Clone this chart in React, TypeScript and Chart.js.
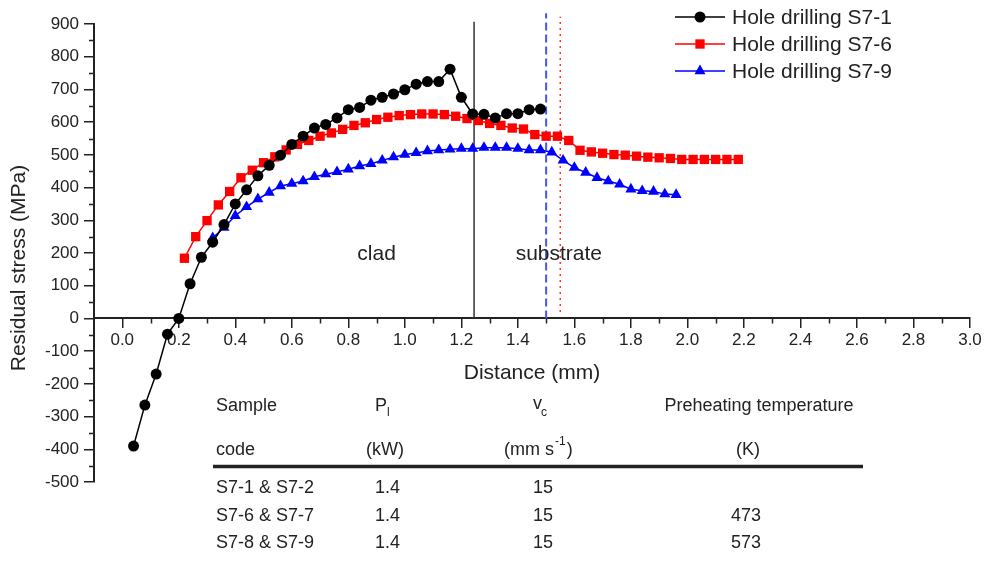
import React, { useEffect, useRef } from "react";
import { Chart, registerables } from "chart.js";

Chart.register(...registerables);

// ---------- data ----------
const S1_X = [0.04, 0.08, 0.12, 0.16, 0.2, 0.24, 0.28, 0.32, 0.36, 0.4, 0.44, 0.48, 0.52, 0.56, 0.6, 0.64, 0.68, 0.72, 0.76, 0.8, 0.84, 0.88, 0.92, 0.96, 1.0, 1.04, 1.08, 1.12, 1.16, 1.2, 1.24, 1.28, 1.32, 1.36, 1.4, 1.44, 1.48];
const S1_Y = [-390, -265, -170, -48, 0, 106, 187, 233, 287, 350, 393, 436, 468, 499, 532, 557, 582, 593, 613, 638, 645, 667, 676, 686, 699, 716, 724, 724, 762, 676, 625, 624, 613, 626, 626, 638, 640];

const S6_X = [0.22, 0.26, 0.3, 0.34, 0.38, 0.42, 0.46, 0.5, 0.54, 0.58, 0.62, 0.66, 0.7, 0.74, 0.78, 0.82, 0.86, 0.9, 0.94, 0.98, 1.02, 1.06, 1.1, 1.14, 1.18, 1.22, 1.26, 1.3, 1.34, 1.38, 1.42, 1.46, 1.5, 1.54, 1.58, 1.62, 1.66, 1.7, 1.74, 1.78, 1.82, 1.86, 1.9, 1.94, 1.98, 2.02, 2.06, 2.1, 2.14, 2.18];
const S6_Y = [184, 250, 299, 347, 388, 430, 453, 476, 494, 515, 532, 544, 557, 567, 578, 590, 598, 608, 615, 620, 623, 625, 625, 623, 618, 611, 605, 596, 590, 582, 579, 562, 557, 557, 544, 514, 509, 505, 501, 499, 496, 493, 491, 489, 486, 486, 486, 486, 486, 486];

const S9_X = [0.32, 0.36, 0.4, 0.44, 0.48, 0.52, 0.56, 0.6, 0.64, 0.68, 0.72, 0.76, 0.8, 0.84, 0.88, 0.92, 0.96, 1.0, 1.04, 1.08, 1.12, 1.16, 1.2, 1.24, 1.28, 1.32, 1.36, 1.4, 1.44, 1.48, 1.52, 1.56, 1.6, 1.64, 1.68, 1.72, 1.76, 1.8, 1.84, 1.88, 1.92, 1.96];
const S9_Y = [246, 278, 314, 341, 365, 385, 405, 412, 420, 433, 441, 448, 456, 466, 473, 483, 493, 501, 506, 512, 515, 517, 519, 519, 522, 522, 522, 519, 515, 515, 508, 483, 461, 446, 430, 420, 410, 395, 390, 388, 380, 378];

const SERIES_LABELS = ["Hole drilling S7-1", "Hole drilling S7-6", "Hole drilling S7-9"];

// vertical reference lines (x position, y from, y to)
const BOUNDARY_LINE = [1.245, 0, 907];
const BLUE_LINE = [1.5, 0, 933];
const RED_LINE = [1.55, 20, 922];

const X_TICKS = [0.0, 0.2, 0.4, 0.6, 0.8, 1.0, 1.2, 1.4, 1.6, 1.8, 2.0, 2.2, 2.4, 2.6, 2.8, 3.0];
const X_MINOR = [0.1, 0.3, 0.5, 0.7, 0.9, 1.1, 1.3, 1.5, 1.7, 1.9, 2.1, 2.3, 2.5, 2.7, 2.9];
const Y_MINOR = [-450, -350, -250, -150, -50, 50, 150, 250, 350, 450, 550, 650, 750, 850];

const REGION_LABELS = ["clad", "substrate"];
const REGION_POS = [[0.9, 195], [1.545, 195]];

const TABLE_ROWS = [
  ["S7-1 & S7-2", "1.4", "15", ""],
  ["S7-6 & S7-7", "1.4", "15", "473"],
  ["S7-8 & S7-9", "1.4", "15", "573"],
];

const FONT = '"Liberation Sans", Arial, Helvetica, sans-serif';
const TEXT = "#222";

function marker(ctx: CanvasRenderingContext2D, style: string, x: number, y: number, r: number, color: string) {
  ctx.save();
  ctx.fillStyle = color;
  ctx.beginPath();
  if (style === "circle") {
    ctx.arc(x, y, r, 0, Math.PI * 2);
  } else if (style === "rect") {
    const s = Math.SQRT1_2 * r;
    ctx.rect(x - s, y - s, 2 * s, 2 * s);
  } else {
    ctx.moveTo(x, y - r);
    ctx.lineTo(x + r * Math.sin(Math.PI / 3), y + r * 0.5);
    ctx.lineTo(x - r * Math.sin(Math.PI / 3), y + r * 0.5);
    ctx.closePath();
  }
  ctx.fill();
  ctx.restore();
}

const decorPlugin = {
  id: "decor",
  afterDraw(chart: any) {
    const ctx: CanvasRenderingContext2D = chart.ctx;
    const xs = chart.scales.x;
    const ys = chart.scales.y;
    const left = chart.chartArea.left;
    const y0 = ys.getPixelForValue(0);
    ctx.save();
    // minor ticks
    ctx.strokeStyle = TEXT;
    ctx.lineWidth = 1.5;
    ctx.beginPath();
    for (const v of X_MINOR) {
      const px = Math.round(xs.getPixelForValue(v)) + 0.5;
      ctx.moveTo(px, y0);
      ctx.lineTo(px, y0 + 5);
    }
    for (const v of Y_MINOR) {
      const py = Math.round(ys.getPixelForValue(v)) + 0.5;
      ctx.moveTo(left - 5, py);
      ctx.lineTo(left, py);
    }
    ctx.stroke();

    ctx.fillStyle = TEXT;
    // axis titles
    ctx.font = `21px ${FONT}`;
    ctx.textAlign = "center";
    ctx.textBaseline = "middle";
    ctx.fillText("Distance (mm)", (chart.chartArea.left + chart.chartArea.right) / 2, 373);
    ctx.save();
    ctx.translate(19, 268);
    ctx.rotate(-Math.PI / 2);
    ctx.fillText("Residual stress (MPa)", 0, 0);
    ctx.restore();

    // region labels
    REGION_LABELS.forEach((t, i) => {
      ctx.fillText(t, xs.getPixelForValue(REGION_POS[i][0]), ys.getPixelForValue(REGION_POS[i][1]));
    });

    // legend
    for (let i = 0; i < 3; i++) {
      const ds = chart.data.datasets[i];
      const ly = 17 + i * 27;
      ctx.strokeStyle = ds.borderColor;
      ctx.lineWidth = ds.borderWidth;
      ctx.beginPath();
      ctx.moveTo(675, ly);
      ctx.lineTo(725, ly);
      ctx.stroke();
      marker(ctx, ds.pointStyle, 700, ly, ds.pointRadius, ds.pointBackgroundColor);
      ctx.fillStyle = TEXT;
      ctx.font = `21px ${FONT}`;
      ctx.textAlign = "left";
      ctx.textBaseline = "middle";
      ctx.fillText(SERIES_LABELS[i], 732, ly + 1);
    }

    // table
    ctx.fillStyle = TEXT;
    ctx.textBaseline = "middle";
    const f = `18px ${FONT}`;
    const fs = `12px ${FONT}`;
    ctx.font = f;
    ctx.textAlign = "left";
    ctx.fillText("Sample", 216, 406);
    ctx.fillText("P", 375, 406);
    ctx.fillText("v", 533, 404);
    ctx.fillText("code", 216, 450);
    ctx.fillText("(mm s", 504, 450);
    let w = ctx.measureText("(mm s").width;
    ctx.font = fs;
    ctx.fillText("l", 387, 413);
    ctx.fillText("c", 541, 413);
    ctx.fillText("-1", 504 + w + 1, 442);
    const w2 = ctx.measureText("-1").width;
    ctx.font = f;
    ctx.fillText(")", 504 + w + w2 + 2, 450);
    ctx.textAlign = "center";
    ctx.fillText("Preheating temperature", 759, 406);
    ctx.fillText("(kW)", 385, 450);
    ctx.fillText("(K)", 748, 450);
    ctx.strokeStyle = TEXT;
    ctx.lineWidth = 3.5;
    ctx.beginPath();
    ctx.moveTo(213, 466.5);
    ctx.lineTo(863, 466.5);
    ctx.stroke();
    const rowY = [488, 516, 543];
    TABLE_ROWS.forEach((r, i) => {
      ctx.textAlign = "left";
      ctx.fillText(r[0], 216, rowY[i]);
      ctx.fillText(r[1], 375, rowY[i]);
      ctx.fillText(r[2], 533, rowY[i]);
      ctx.textAlign = "center";
      ctx.fillText(r[3], 746, rowY[i]);
    });
    ctx.restore();
  },
};

function pts(xsArr: number[], ysArr: number[]) {
  return xsArr.map((x, i) => ({ x, y: ysArr[i] }));
}

function vline(l: number[]) {
  return [{ x: l[0], y: l[1] }, { x: l[0], y: l[2] }];
}

export default function App() {
  const ref = useRef<HTMLCanvasElement | null>(null);
  useEffect(() => {
    document.body.style.margin = "0";
    const canvas = ref.current!;
    const chart = new Chart(canvas, {
      type: "line",
      data: {
        datasets: [
          {
            label: SERIES_LABELS[0],
            data: pts(S1_X, S1_Y),
            borderColor: "#000000",
            backgroundColor: "#000000",
            pointBackgroundColor: "#000000",
            pointBorderWidth: 0,
            borderWidth: 1.5,
            pointStyle: "circle",
            pointRadius: 5.5,
            tension: 0,
          },
          {
            label: SERIES_LABELS[1],
            data: pts(S6_X, S6_Y),
            borderColor: "#ff0000",
            backgroundColor: "#ff0000",
            pointBackgroundColor: "#ff0000",
            pointBorderWidth: 0,
            borderWidth: 1.5,
            pointStyle: "rect",
            pointRadius: 6.6,
            tension: 0,
          },
          {
            label: SERIES_LABELS[2],
            data: pts(S9_X, S9_Y),
            borderColor: "#0000ff",
            backgroundColor: "#0000ff",
            pointBackgroundColor: "#0000ff",
            pointBorderWidth: 0,
            borderWidth: 1.5,
            pointStyle: "triangle",
            pointRadius: 6.4,
            tension: 0,
          },
          {
            label: "clad/substrate boundary",
            data: vline(BOUNDARY_LINE),
            borderColor: "#333333",
            borderWidth: 1.5,
            pointRadius: 0,
            clip: false,
          },
          {
            label: "S7-9 boundary",
            data: vline(BLUE_LINE),
            borderColor: "#4455ff",
            borderWidth: 2,
            borderDash: [8, 4],
            pointRadius: 0,
            clip: false,
          },
          {
            label: "S7-6 boundary",
            data: vline(RED_LINE),
            borderColor: "#ff3333",
            borderWidth: 1.5,
            borderDash: [2, 4],
            pointRadius: 0,
            clip: false,
          },
        ] as any,
      },
      options: {
        responsive: false,
        animation: false,
        layout: { padding: { top: 24, right: 16, bottom: 80, left: 0 } },
        plugins: { legend: { display: false }, tooltip: { enabled: false } },
        scales: {
          x: {
            type: "linear",
            min: -0.1,
            max: 3.0,
            position: { y: 0 } as any,
            afterBuildTicks: (s: any) => {
              s.ticks = X_TICKS.map((v) => ({ value: v }));
            },
            grid: { drawOnChartArea: false, drawTicks: true, tickLength: 9, color: TEXT, lineWidth: 1.5 },
            border: { display: true, color: TEXT, width: 2 },
            ticks: {
              font: { family: FONT, size: 17 },
              color: TEXT,
              padding: 3,
              maxRotation: 0,
              autoSkip: false,
              callback: (v: any) => Number(v).toFixed(1),
            },
          },
          y: {
            type: "linear",
            min: -500,
            max: 900,
            afterFit: (s: any) => {
              s.width = 94;
            },
            grid: { drawOnChartArea: false, drawTicks: true, tickLength: 10, color: TEXT, lineWidth: 1.5 },
            border: { display: true, color: TEXT, width: 2 },
            ticks: {
              stepSize: 100,
              font: { family: FONT, size: 17 },
              color: TEXT,
              padding: 5,
              autoSkip: false,
            },
          },
        },
      },
      plugins: [decorPlugin],
    });
    return () => chart.destroy();
  }, []);
  return (
    <div style={{ position: "fixed", left: 0, top: 0, width: 986, height: 562, background: "#fff" }}>
      <canvas ref={ref} width={986} height={562} style={{ display: "block" }} />
    </div>
  );
}
